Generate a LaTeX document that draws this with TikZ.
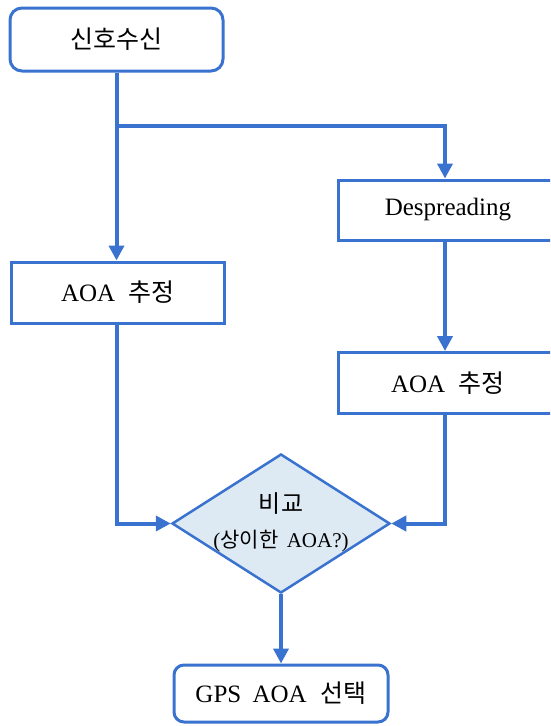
\documentclass[tikz,border=0pt]{standalone}
\usepackage{fontspec}
\setmainfont{Liberation Serif}
\newfontfamily\kr{Noto Sans CJK KR}
\usetikzlibrary{shapes.geometric,arrows.meta}
\definecolor{lineblue}{HTML}{3A72CF}
\definecolor{dfill}{HTML}{DDEAF4}
\tikzset{
  box/.style={draw=lineblue,line width=3pt,fill=white,minimum width=213pt,minimum height=61pt,inner sep=0pt,font=\fontsize{25}{28}\selectfont},
  rbox/.style={box,rounded corners=12pt},
  dec/.style={diamond,draw=lineblue,line width=2.5pt,fill=dfill,minimum width=218pt,minimum height=139pt,inner sep=0pt,aspect=1.57},
  conn/.style={draw=lineblue,line width=4pt,-{Triangle[length=15pt,width=15pt]}},
  plain/.style={draw=lineblue,line width=4pt}
}
\begin{document}
\begin{tikzpicture}[x=1pt,y=-1pt]
\useasboundingbox (0,0) rectangle (550,726);
\clip (0,0) rectangle (550,726);
\fill[white] (0,0) rectangle (550,726);
\node[rbox,minimum height=63pt] (rx) at (116.5,39.5) {\kr 신호수신};
\node[box] (aoal) at (118,292.5) {\makebox[0pt][c]{AOA\hspace{0.55em}{\kr 추정}}};
\node[box,minimum height=60pt,minimum width=220pt] (desp) at (448,210) {Despreading};
\node[box,minimum width=220pt] (aoar) at (448,383) {AOA\hspace{0.55em}{\kr 추정}};
\node[dec] (cmp) at (281,523.5) {};
\node[font=\fontsize{24}{28}\selectfont] (cmpa) at (281,504) {\kr 비교};
\node[font=\fontsize{21}{24}\selectfont] (cmpb) at (281,541) {({\kr 상이한}\hspace{0.4em}AOA?)};
\node[rbox,minimum width=214pt,minimum height=57pt,rounded corners=10pt] (gps) at (281,693.5) {GPS\hspace{0.45em}AOA\hspace{0.55em}{\kr 선택}};
\coordinate (br) at (116.5,126);
\coordinate (brr) at (445,126);
\draw[conn] (rx.south) -- (rx.south |- aoal.north);
\draw[conn] (br) -- (brr) -- (brr |- desp.north);
\draw[conn] (brr |- desp.south) -- (brr |- aoar.north);
\draw[conn] (rx.south |- aoal.south) |- (cmp.west);
\draw[conn] (brr |- aoar.south) |- (cmp.east);
\draw[conn] (cmp.south) -- (gps.north);
\end{tikzpicture}
\end{document}
